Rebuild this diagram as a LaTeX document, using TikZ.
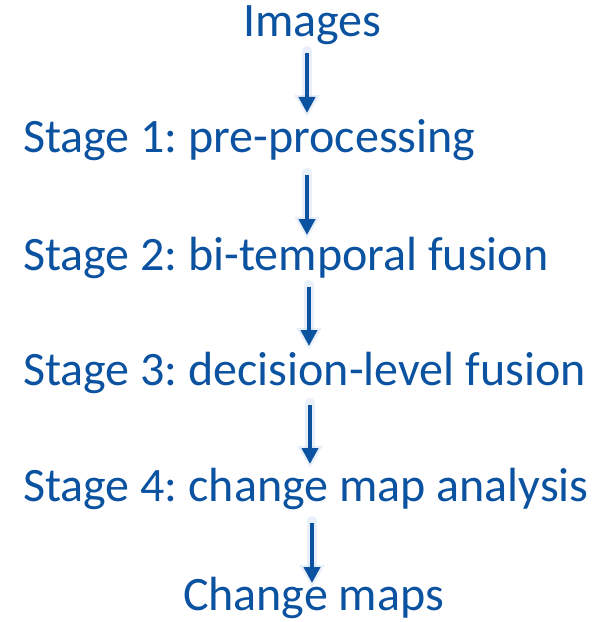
\documentclass[tikz,border=0pt]{standalone}
\usepackage{fontspec}
\setmainfont{Carlito}
\usetikzlibrary{arrows.meta}
\definecolor{stageblue}{RGB}{11,82,160}
\definecolor{glowblue}{RGB}{205,220,242}
\begin{document}
\frenchspacing
\begin{tikzpicture}[x=1bp,y=-1bp,
  lbl/.style={inner sep=0pt,outer sep=0pt,text=stageblue,font=\fontsize{48bp}{58bp}\selectfont\frenchspacing},
  glowline/.style={draw=glowblue,line width=10bp,opacity=0.45,line cap=round,
    shorten <=-2bp,shorten >=-4bp,-{Triangle[width=24bp,length=22bp]}},
  arr/.style={draw=stageblue,line width=4bp,-{Triangle[width=16bp,length=16bp]}}]
\useasboundingbox[fill=white] (0,0) rectangle (607,622);
\node[lbl,anchor=base west] (img) at (243,37) {Images};
\node[lbl,anchor=base west] (s1) at (23,153) {Stage 1: pre-processing};
\node[lbl,anchor=base west] (s2) at (23,270) {Stage 2: bi-temporal fusion};
\node[lbl,anchor=base west] (s3) at (23,385) {Stage 3: decision-level fusion};
\node[lbl,anchor=base west] (s4) at (23,501) {Stage 4: change map analysis};
\node[lbl,anchor=base west] (cm) at (183,610) {Change maps};
\coordinate (a1t) at (307,53);  \coordinate (a1b) at (307,113);
\coordinate (a2t) at (307,175); \coordinate (a2b) at (307,235);
\coordinate (a3t) at (309,287); \coordinate (a3b) at (309,346);
\coordinate (a4t) at (310,405); \coordinate (a4b) at (310,464);
\coordinate (a5t) at (312,523); \coordinate (a5b) at (312,583);
\foreach \a in {1,...,5}{
  \draw[glowline] (a\a t) -- (a\a b);
  \draw[arr] (a\a t) -- (a\a b);
}
\end{tikzpicture}
\end{document}
